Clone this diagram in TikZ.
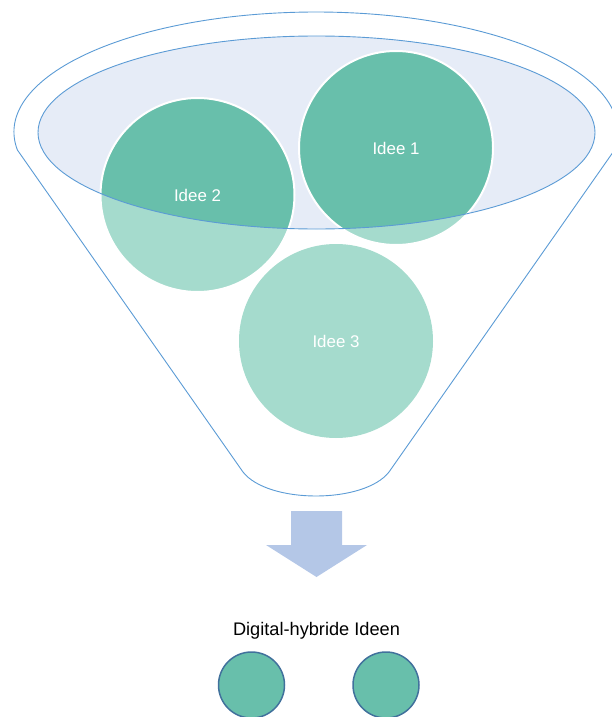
\documentclass[tikz,border=0pt]{standalone}
\usepackage{fontspec}
\setmainfont{Liberation Sans}
\definecolor{funnelblue}{HTML}{5B9BD5}
\definecolor{ellfill}{HTML}{E6ECF7}
\definecolor{darkgreen}{HTML}{68BFAB}
\definecolor{lightgreen}{HTML}{A5DBCD}
\definecolor{arrowblue}{HTML}{B4C7E7}
\definecolor{ringblue}{HTML}{41719C}
\begin{document}
\begin{tikzpicture}[x=1pt,y=-1pt,
  funnelline/.style={draw=funnelblue,line width=0.9pt},
  ideacircle/.style={circle,minimum size=194pt,inner sep=0pt,fill=lightgreen},
  idealabel/.style={text=white,font=\fontsize{16.9}{18}\selectfont},
  smallidea/.style={circle,minimum size=66pt,inner sep=0pt,fill=darkgreen,draw=ringblue,line width=1.5pt},
  caption/.style={text=black,font=\fontsize{18.2}{20}\selectfont}]
\useasboundingbox (0,0) rectangle (611,717);
% outer funnel
\draw[funnelline,line join=round]
  (17.4,150) arc[start angle=171.37,end angle=368.63,x radius=302,y radius=120]
  -- (389,472) .. controls (364,504) and (268,504) .. (243,472) -- cycle;
% inner ellipse
\fill[ellfill] (316.5,132.5) ellipse[x radius=278.5,y radius=96.5];
% idea circles (light parts)
\node[ideacircle] (c1) at (396,148) {};
\node[ideacircle] (c2) at (197.5,195) {};
\node[ideacircle] (c3) at (336,341) {};
% dark parts inside the inner ellipse
\begin{scope}
  \clip (316.5,132.5) ellipse[x radius=278.5,y radius=96.5];
  \fill[darkgreen] (c1.center) circle[radius=97];
  \fill[darkgreen] (c2.center) circle[radius=97];
\end{scope}
\draw[white,line width=2pt] (c1.center) circle[radius=97];
\draw[white,line width=2pt] (c2.center) circle[radius=97];
\draw[funnelline] (316.5,132.5) ellipse[x radius=278.5,y radius=96.5];
\node[idealabel] (t1) at (c1) {Idee 1};
\node[idealabel] (t2) at (c2) {Idee 2};
\node[idealabel] (t3) at (c3) {Idee 3};
% down arrow
\fill[arrowblue] (291,511) -- (342,511) -- (342,545) -- (367,545) -- (316.5,577)
  -- (266,545) -- (291,545) -- cycle;
% result
\node[caption] (cap) at (316.5,631) {Digital-hybride Ideen};
\node[smallidea] (r1) at (251.5,685) {};
\node[smallidea] (r2) at (386,685) {};
\end{tikzpicture}
\end{document}
